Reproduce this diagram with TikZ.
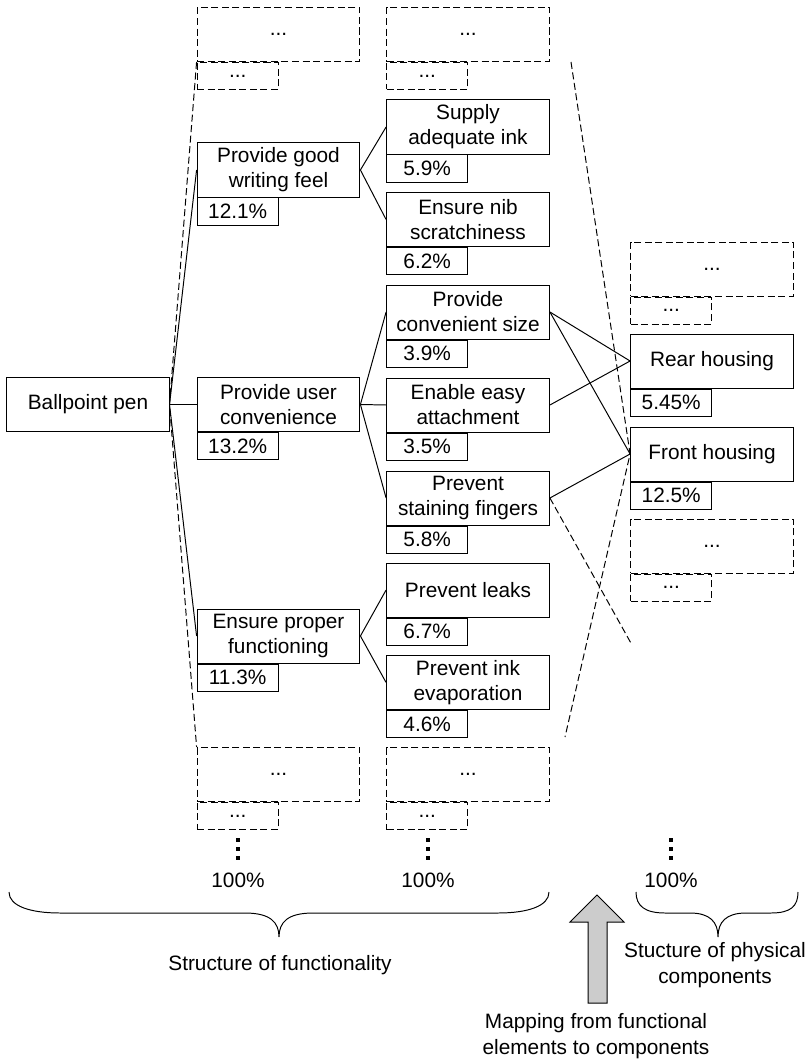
\documentclass[tikz,border=0pt]{standalone}
\usepackage{fontspec}
\setmainfont{Liberation Sans}
\usetikzlibrary{positioning}

\tikzset{
  fnbox/.style={draw, line width=0.7pt, minimum width=4.07cm, minimum height=1.35cm,
    align=center, inner sep=1pt, font=\fontsize{14.8}{17.8}\selectfont},
  pctbox/.style={draw, line width=0.7pt, minimum width=2.03cm, minimum height=0.675cm,
    inner sep=1pt, font=\fontsize{14.8}{17.8}\selectfont},
  morebox/.style={fnbox, dash pattern=on 5pt off 2.5pt},
  morepct/.style={pctbox, dash pattern=on 5pt off 2.5pt},
  txt/.style={align=center, inner sep=0pt, font=\fontsize{14.8}{18.4}\selectfont},
  link/.style={line width=0.7pt},
  maplink/.style={line width=0.7pt, dash pattern=on 5pt off 2.5pt},
}

\begin{document}
\begin{tikzpicture}[x=0.025cm, y=-0.025cm]
    \useasboundingbox (0,0) rectangle (807,1063);

    % root
    \node[fnbox, minimum width=4.05cm] (pen) at (88,404.5) {Ballpoint pen};

    % first level of functions
    \node[morebox] (c1top) at (278.5,34.5) {...};
    \node[morepct, below right=0pt of c1top.south west] (c1topp) {...};
    \node[fnbox] (feel) at (278.5,170) {Provide good\\writing feel};
    \node[pctbox, below right=0pt of feel.south west] (feelp) {12.1\%};
    \node[fnbox] (conv) at (278.5,404.5) {Provide user\\convenience};
    \node[pctbox, below right=0pt of conv.south west] (convp) {13.2\%};
    \node[fnbox] (func) at (278.5,636) {Ensure proper\\functioning};
    \node[pctbox, below right=0pt of func.south west] (funcp) {11.3\%};
    \node[morebox] (c1bot) at (278.5,774.5) {...};
    \node[morepct, below right=0pt of c1bot.south west] (c1botp) {...};

    % second level of functions
    \node[morebox] (c2top) at (468,34.5) {...};
    \node[morepct, below right=0pt of c2top.south west] (c2topp) {...};
    \node[fnbox] (ink) at (468,127) {Supply\\adequate ink};
    \node[pctbox, below right=0pt of ink.south west] (inkp) {5.9\%};
    \node[fnbox] (nib) at (468,219.5) {Ensure nib\\scratchiness};
    \node[pctbox, below right=0pt of nib.south west] (nibp) {6.2\%};
    \node[fnbox] (size) at (468,312) {Provide\\convenient size};
    \node[pctbox, below right=0pt of size.south west] (sizep) {3.9\%};
    \node[fnbox] (attach) at (468,405) {Enable easy\\attachment};
    \node[pctbox, below right=0pt of attach.south west] (attachp) {3.5\%};
    \node[fnbox] (stain) at (468,498) {Prevent\\staining fingers};
    \node[pctbox, below right=0pt of stain.south west] (stainp) {5.8\%};
    \node[fnbox] (leak) at (468,590) {Prevent leaks};
    \node[pctbox, below right=0pt of leak.south west] (leakp) {6.7\%};
    \node[fnbox] (evap) at (468,682.5) {Prevent ink\\evaporation};
    \node[pctbox, below right=0pt of evap.south west] (evapp) {4.6\%};
    \node[morebox] (c2bot) at (468,774.5) {...};
    \node[morepct, below right=0pt of c2bot.south west] (c2botp) {...};

    % physical components
    \node[morebox] (c3top) at (712,269) {...};
    \node[morepct, below right=0pt of c3top.south west] (c3topp) {...};
    \node[fnbox] (rear) at (712,361) {Rear housing};
    \node[pctbox, below right=0pt of rear.south west] (rearp) {5.45\%};
    \node[fnbox] (front) at (712,454) {Front housing};
    \node[pctbox, below right=0pt of front.south west] (frontp) {12.5\%};
    \node[morebox] (c3bot) at (712,546) {...};
    \node[morepct, below right=0pt of c3bot.south west] (c3botp) {...};

    % tree links
    \draw[link] (pen.east) -- (feel.west);
    \draw[link] (pen.east) -- (conv.west);
    \draw[link] (pen.east) -- (func.west);
    \draw[link] (feel.east) -- (ink.west);
    \draw[link] (feel.east) -- (nib.west);
    \draw[link] (conv.east) -- (size.west);
    \draw[link] (conv.east) -- (attach.west);
    \draw[link] (conv.east) -- (stain.west);
    \draw[link] (func.east) -- (leak.west);
    \draw[link] (func.east) -- (evap.west);

    % function to component links
    \draw[link] (size.east) -- (rear.west);
    \draw[link] (size.east) -- (front.west);
    \draw[link] (attach.east) -- (rear.west);
    \draw[link] (stain.east) -- (front.west);

    % hidden parts
    \coordinate (m1) at (571,62);
    \coordinate (m2) at (565,737);
    \coordinate (m3) at (632,645);
    \draw[maplink] (c1top.south west) -- (pen.east) -- (c1bot.north west);
    \draw[maplink] (m1) -- (front.west) -- (m2);
    \draw[maplink] (stain.east) -- (m3);

    % continuation dots and totals
    \foreach \x in {238,428,671}
      \foreach \y in {840,849,858}
        \fill (\x-2,\y-2) rectangle (\x+2,\y+2);
    \node[txt] (tot1) at (238,880) {100\%};
    \node[txt] (tot2) at (428,880) {100\%};
    \node[txt] (tot3) at (671,880) {100\%};

    % braces
    \draw[link] (9,892) .. controls (9,906) and (30,913) .. (60,913) -- (245,913)
      .. controls (270,913) and (279,922) .. (279,937)
      .. controls (279,922) and (288,913) .. (313,913) -- (498,913)
      .. controls (528,913) and (549,906) .. (549,892);
    \draw[link] (636,892) .. controls (636,906) and (645,913) .. (665,913) -- (690,913)
      .. controls (710,913) and (718,922) .. (718,937)
      .. controls (718,922) and (726,913) .. (746,913) -- (771,913)
      .. controls (791,913) and (798,906) .. (798,892);
    \node[txt] (funclbl) at (280,965) {Structure of functionality};
    \node[txt] (complbl) at (715,965) {Stucture of physical\\components};

    % mapping arrow
    \draw[link, fill=black!20] (597,895) -- (624,922) -- (607,922) -- (607,1003)
      -- (588,1003) -- (588,922) -- (570,922) -- cycle;
    \node[txt] (maplbl) at (596,1036) {Mapping from functional\\elements to components};

\end{tikzpicture}
\end{document}
